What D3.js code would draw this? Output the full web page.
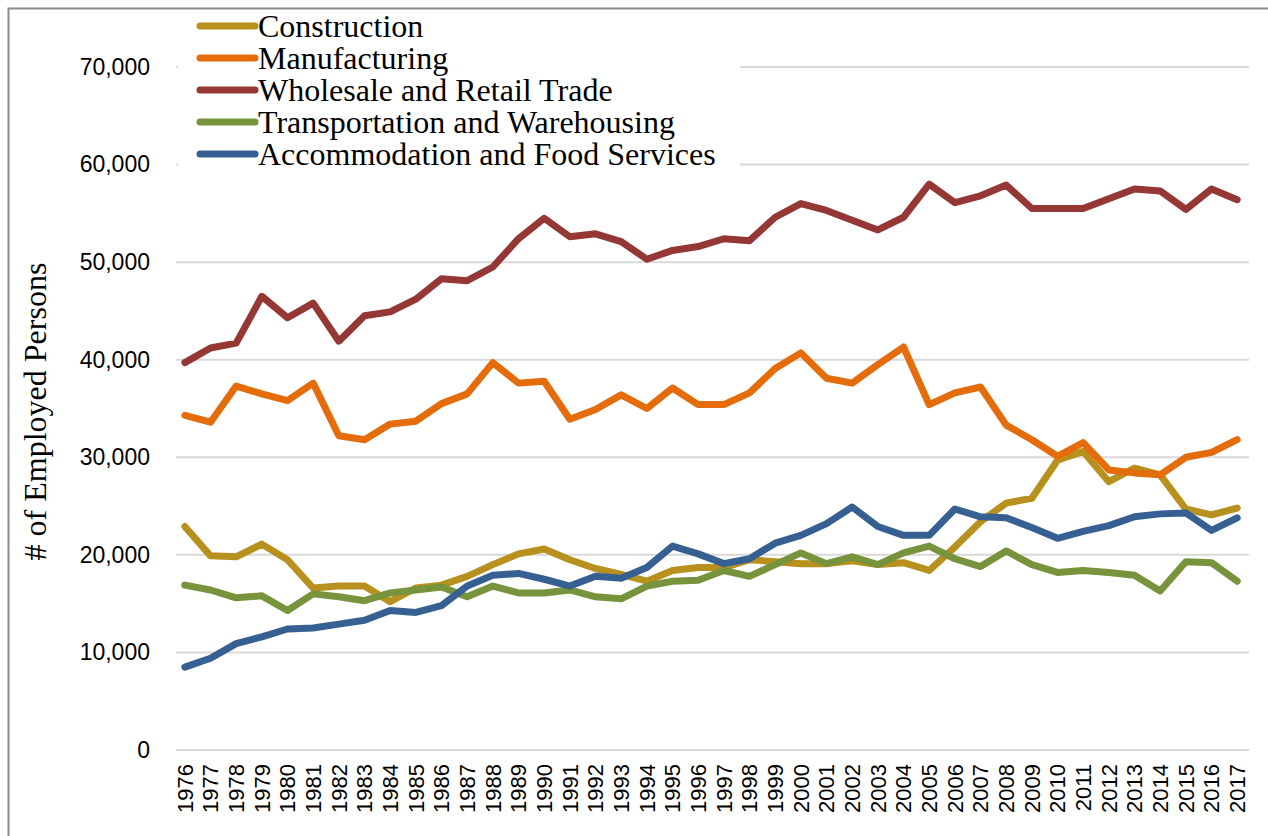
<!DOCTYPE html>
<html>
<head>
<meta charset="utf-8">
<script src="https://cdn.jsdelivr.net/npm/d3@7"></script>
<style>
  body { margin: 0; background: #fff; }
  svg { display: block; }
</style>
</head>
<body>
<script>
// data
const years = d3.range(1976, 2018).map(String);

const construction = [22900, 19900, 19800, 21100, 19500, 16600, 16800, 16800, 15200, 16600,
  16900, 17800, 19000, 20100, 20600, 19500, 18600, 18000, 17300, 18400,
  18700, 18700, 19500, 19300, 19100, 19100, 19400, 19000, 19200, 18400,
  20800, 23400, 25300, 25800, 29700, 30600, 27500, 28900, 28200, 24700,
  24100, 24800];

const manufacturing = [34300, 33600, 37300, 36500, 35800, 37600, 32200, 31800, 33400, 33700,
  35500, 36500, 39700, 37600, 37800, 33900, 34900, 36400, 35000, 37100,
  35400, 35400, 36600, 39100, 40700, 38100, 37600, 39500, 41300, 35400,
  36600, 37200, 33300, 31800, 30100, 31500, 28700, 28400, 28200, 30000,
  30500, 31800];

const wholesale = [39700, 41200, 41700, 46500, 44300, 45800, 41900, 44500, 44900, 46200,
  48300, 48100, 49500, 52400, 54500, 52600, 52900, 52100, 50300, 51200,
  51600, 52400, 52200, 54600, 56000, 55300, 54300, 53300, 54600, 58000,
  56100, 56800, 57900, 55500, 55500, 55500, 56500, 57500, 57300, 55400,
  57500, 56400];

const transportation = [16900, 16400, 15600, 15800, 14300, 16000, 15700, 15300, 16100, 16400,
  16700, 15700, 16800, 16100, 16100, 16400, 15700, 15500, 16800, 17300,
  17400, 18400, 17800, 19000, 20200, 19100, 19800, 19000, 20200, 20900,
  19600, 18800, 20400, 19000, 18200, 18400, 18200, 17900, 16300, 19300,
  19200, 17300];

const accommodation = [8500, 9400, 10900, 11600, 12400, 12500, 12900, 13300, 14300, 14100,
  14800, 16800, 17900, 18100, 17500, 16800, 17800, 17600, 18700, 20900,
  20100, 19100, 19600, 21200, 22000, 23200, 24900, 22900, 22000, 22000,
  24700, 23900, 23800, 22800, 21700, 22400, 23000, 23900, 24200, 24300,
  22500, 23800];

const seriesNames = ["Construction", "Manufacturing", "Wholesale and Retail Trade",
  "Transportation and Warehousing", "Accommodation and Food Services"];
const seriesValues = [construction, manufacturing, wholesale, transportation, accommodation];
const seriesColors = ["#b8901e", "#e46c0a", "#953735", "#77933c", "#376092"];
const yTicks = [0, 10000, 20000, 30000, 40000, 50000, 60000, 70000];

const width = 1268, height = 836;
const plotLeft = 172, plotRight = 1250, plotTop = 67, plotBottom = 750;

const svg = d3.select("body").append("svg")
    .attr("width", width)
    .attr("height", height);

// outer frame (only top and left edges are inside the picture)
svg.append("path")
    .attr("d", `M8.5,${height} V8.5 H${width}`)
    .attr("fill", "none")
    .attr("stroke", "#8c8c8c")
    .attr("stroke-width", 2);

const x = d3.scaleBand().domain(years).range([plotLeft, plotRight]);
const y = d3.scaleLinear().domain([0, 70000]).range([plotBottom, plotTop]);

// gridlines
svg.append("g")
  .selectAll("line")
  .data(yTicks)
  .enter()
  .append("line")
    .attr("x1", plotLeft + 4)
    .attr("x2", plotRight - 1)
    .attr("y1", d => y(d))
    .attr("y2", d => y(d))
    .attr("stroke", "#d9d9d9")
    .attr("stroke-width", 2);

// y axis labels
const yAxis = svg.append("g")
    .attr("transform", `translate(${plotLeft - 22},0)`)
    .call(d3.axisLeft(y).tickValues(yTicks).tickFormat(d3.format(",")).tickSize(0).tickPadding(0));
yAxis.select(".domain").remove();
yAxis.selectAll("text")
    .attr("font-family", "'Liberation Sans', Arial, sans-serif")
    .attr("font-size", 23)
    .attr("fill", "#000");

// x axis labels, rotated
const xAxis = svg.append("g")
    .attr("transform", `translate(0,${plotBottom})`)
    .call(d3.axisBottom(x).tickSize(0).tickPadding(0));
xAxis.select(".domain").remove();
xAxis.selectAll("text")
    .attr("font-family", "'Liberation Sans', Arial, sans-serif")
    .attr("font-size", 22)
    .attr("fill", "#000")
    .attr("text-anchor", "end")
    .attr("transform", "translate(0,14) rotate(-90)")
    .attr("dx", 0)
    .attr("dy", "0.36em")
    .attr("y", 0)
    .attr("x", 0);

// y axis title
svg.append("text")
    .attr("transform", `translate(46,${(plotTop + plotBottom) / 2 + 3}) rotate(-90)`)
    .attr("text-anchor", "middle")
    .attr("font-family", "'Liberation Serif', 'Times New Roman', serif")
    .attr("font-size", 32)
    .text("# of Employed Persons");

// lines
const line = d3.line()
    .x((d, i) => x(years[i]) + x.bandwidth() / 2)
    .y(d => y(d));

svg.append("g")
  .selectAll("path")
  .data(seriesValues)
  .enter()
  .append("path")
    .attr("d", d => line(d))
    .attr("fill", "none")
    .attr("stroke", (d, i) => seriesColors[i])
    .attr("stroke-width", 7)
    .attr("stroke-linejoin", "round")
    .attr("stroke-linecap", "round");

// legend (white box hides the gridlines under it)
svg.append("rect")
    .attr("x", plotLeft + 6)
    .attr("y", 10)
    .attr("width", 740 - plotLeft - 6)
    .attr("height", 160)
    .attr("fill", "#fff");

const legend = svg.append("g")
  .selectAll("g")
  .data(seriesNames)
  .enter()
  .append("g")
    .attr("transform", (d, i) => `translate(0,${26 + i * 32})`);

legend.append("line")
    .attr("x1", 200)
    .attr("x2", 255)
    .attr("stroke", (d, i) => seriesColors[i])
    .attr("stroke-width", 7)
    .attr("stroke-linecap", "round");

legend.append("text")
    .attr("x", 258)
    .attr("y", 11)
    .attr("font-family", "'Liberation Serif', 'Times New Roman', serif")
    .attr("font-size", 32)
    .text(d => d);
</script>
</body>
</html>
